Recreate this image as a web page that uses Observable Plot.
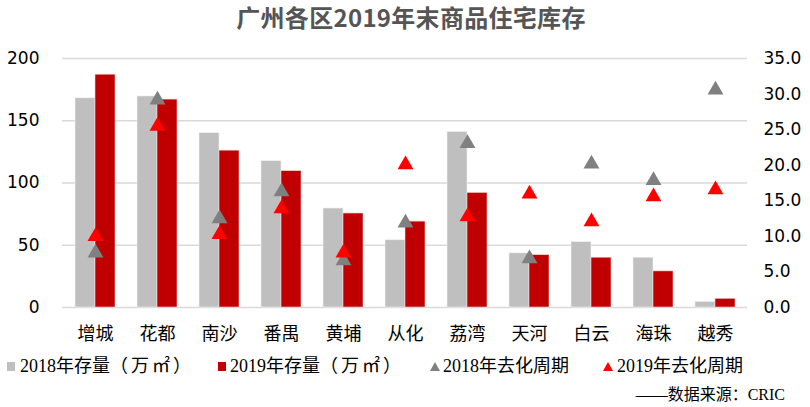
<!DOCTYPE html>
<html>
<head>
<meta charset="utf-8">
<script src="https://cdn.jsdelivr.net/npm/d3@7"></script>
<script src="https://cdn.jsdelivr.net/npm/@observablehq/plot@0.6"></script>
<style>
  html, body { margin: 0; padding: 0; background: #fff; }
  #wrap { position: relative; width: 810px; height: 407px; overflow: hidden; background: #fff; }
  #title { position: absolute; left: 0; width: 822px; top: 1px; text-align: center;
           font-family: "Noto Sans CJK SC", sans-serif; font-weight: bold; font-size: 24px; color: #555555; line-height: 32px; letter-spacing: 0.3px; }
  #chart { position: absolute; left: 0; top: 0; }
  .lg { position: absolute; top: 354px; font-family: "Liberation Serif", "Noto Sans CJK SC", serif; font-size: 18px; color: #000; line-height: 24px; white-space: nowrap; }
  .lg .unit { letter-spacing: 3px; }
  .sw { position: absolute; }
  #source { position: absolute; right: 25px; top: 385px; font-family: "Liberation Serif", "Noto Sans CJK SC", serif; font-size: 16px; color: #000; line-height: 20px; white-space: nowrap; }
</style>
</head>
<body>
<div id="wrap">
  <div id="chart"></div>
  <div id="title"></div>
  <div id="legend"></div>
  <div id="source"></div>
</div>
<script>
const title = "广州各区2019年末商品住宅库存";
const districts = ["增城","花都","南沙","番禺","黄埔","从化","荔湾","天河","白云","海珠","越秀"];
const stock2018 = [168, 169.5, 140, 117.5, 79.5, 54, 141, 43.5, 52.5, 40, 4.5];
const stock2019 = [187, 167, 126, 109.5, 75.5, 69, 92, 42, 40, 29, 7];
const cycle2018 = [8.0, 29.5, 12.8, 16.6, 6.9, 12.2, 23.4, 7.2, 20.5, 18.2, 30.9];
const cycle2019 = [10.3, 25.8, 10.6, 14.2, 8.0, 20.4, 13.1, 16.3, 12.4, 15.9, 16.9];
const leftTicks = [0, 50, 100, 150, 200];
const rightTicks = [0, 5, 10, 15, 20, 25, 30, 35];
const seriesNames = ["2018年存量", "2019年存量", "2018年去化周期", "2019年去化周期"];
const seriesUnits = ["（万㎡）", "（万㎡）", "", ""];
const sourceText = "——数据来源：CRIC";

const colors = {g18: "#bfbfbf", r19: "#c00000", tg: "#808080", tr: "#ff0000"};
const leftMax = 200, rightMax = 35;
const toLeft = v => v * leftMax / rightMax;

const data = districts.map((d, i) => ({
  district: d, s2018: stock2018[i], s2019: stock2019[i], c2018: cycle2018[i], c2019: cycle2019[i]
}));

const chart = Plot.plot({
  width: 810,
  height: 350,
  marginLeft: 62,
  marginRight: 63,
  marginTop: 58,
  marginBottom: 43,
  style: {fontFamily: "DejaVu Sans, sans-serif", fontSize: "17px", color: "#000", background: "transparent"},
  x: {domain: districts, paddingInner: 0.36, paddingOuter: 0.18, axis: null},
  y: {domain: [0, leftMax], axis: null},
  marks: [
    Plot.gridY(leftTicks, {stroke: "#d9d9d9", strokeOpacity: 1, strokeWidth: 1.3}),
    Plot.barY(data, {x: "district", y: "s2018", fill: colors.g18, insetRight: 20, stroke: "#f0f0f0", strokeWidth: 0.6}),
    Plot.barY(data, {x: "district", y: "s2019", fill: colors.r19, insetLeft: 20, stroke: "#f0d0d0", strokeWidth: 0.6}),
    Plot.dot(data, {x: "district", y: d => toLeft(d.c2018), symbol: "triangle", fill: colors.tg, r: 5.9, dy: 2.3}),
    Plot.dot(data, {x: "district", y: d => toLeft(d.c2019), symbol: "triangle", fill: colors.tr, r: 5.9, dy: 2.3}),
    Plot.axisY(leftTicks, {anchor: "left", tickSize: 0, tickPadding: 23, label: null, fontSize: 17, fontFamily: "DejaVu Sans"}),
    Plot.axisY(rightTicks.map(toLeft), {anchor: "right", tickSize: 0, tickPadding: 16, label: null,
      tickFormat: d => (d * rightMax / leftMax).toFixed(1), fontSize: 17, fontFamily: "DejaVu Sans"}),
    Plot.axisX({anchor: "bottom", tickSize: 0, tickPadding: 20, label: null, fontSize: 18,
      fontFamily: "Noto Sans CJK SC, sans-serif"})
  ]
});
document.getElementById("chart").appendChild(chart);
document.getElementById("title").textContent = title;
document.getElementById("source").textContent = sourceText;

// legend
const legend = document.getElementById("legend");
const items = [
  {kind: "square", color: colors.g18, sx: 7, tx: 20},
  {kind: "square", color: colors.r19, sx: 218, tx: 230},
  {kind: "tri", color: colors.tg, sx: 430, tx: 443},
  {kind: "tri", color: colors.tr, sx: 603, tx: 617}
];
items.forEach((it, i) => {
  const sw = document.createElementNS("http://www.w3.org/2000/svg", "svg");
  sw.setAttribute("class", "sw");
  sw.setAttribute("width", 11);
  sw.setAttribute("height", 11);
  sw.style.left = it.sx + "px";
  sw.style.top = "361px";
  if (it.kind === "square") {
    sw.innerHTML = `<rect x="0" y="1" width="8" height="9" fill="${it.color}"/>`;
  } else {
    sw.innerHTML = `<path d="M5,1 L10,10 L0,10 Z" fill="${it.color}"/>`;
  }
  legend.appendChild(sw);
  const t = document.createElement("div");
  t.className = "lg";
  t.style.left = it.tx + "px";
  t.appendChild(document.createTextNode(seriesNames[i]));
  if (seriesUnits[i]) {
    const u = document.createElement("span");
    u.className = "unit";
    u.textContent = seriesUnits[i];
    t.appendChild(u);
  }
  legend.appendChild(t);
});
</script>
</body>
</html>
